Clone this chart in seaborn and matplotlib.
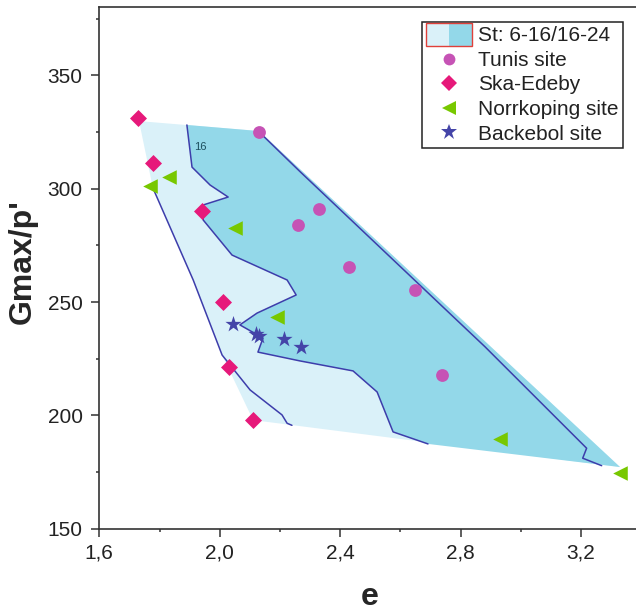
import matplotlib
matplotlib.use("Agg")
import matplotlib.pyplot as plt
import matplotlib.patches as mpatches
from matplotlib.lines import Line2D
from matplotlib.legend_handler import HandlerBase
from matplotlib.ticker import MultipleLocator, FuncFormatter
import seaborn as sns

# ---------------- data ----------------
tunis_e = [2.13, 2.26, 2.33, 2.43, 2.65, 2.74]
tunis_g = [325, 284, 291, 265.5, 255.5, 218]

ska_e = [1.73, 1.78, 1.94, 2.01, 2.03, 2.11]
ska_g = [331, 311.5, 290, 250, 221.5, 198]

norr_e = [1.77, 1.83, 2.05, 2.19, 2.93, 3.33]
norr_g = [301, 305, 282.5, 243.5, 189.5, 174.5]

back_e = [2.045, 2.12, 2.13, 2.215, 2.27]
back_g = [240.5, 236, 235, 233.5, 230]

# outer zone St 6-16 (light)
zone_light_e = [1.732, 2.131, 3.33, 2.111, 2.008, 1.912, 1.778]
zone_light_g = [329.8, 325.4, 177.2, 197.9, 226.6, 259.7, 300.3]

# contour 16 (boundary of the 16-24 zone)
c16_e = [1.891, 1.908, 1.968, 2.028, 1.945, 1.945, 2.041, 2.224, 2.254,
         2.124, 2.067, 2.144, 2.127, 2.267, 2.443, 2.523, 2.576, 2.692]
c16_g = [328.1, 309.5, 301.6, 296.3, 292.8, 286.2, 270.7, 259.7, 253.1,
         245.1, 239.9, 234.1, 227.9, 224.0, 219.6, 210.3, 192.7, 187.4]

# dark zone closing corners (right tip, top right)
dark_close_e = [3.33, 2.131]
dark_close_g = [177.2, 325.4]

# right contour line
c24_e = [2.131, 2.267, 2.787, 2.881, 3.219, 3.206, 3.269]
c24_g = [325.0, 307.5, 242.1, 230.3, 185.5, 181.1, 177.8]

# left contour line
c6_e = [1.778, 1.912, 2.008, 2.101, 2.207, 2.224, 2.240]
c6_g = [300.3, 259.7, 226.6, 211.2, 200.2, 196.5, 195.6]

legend_labels = ["St: 6-16/16-24", "Tunis site", "Ska-Edeby",
                 "Norrkoping site", "Backebol site"]

# ---------------- style ----------------
LIGHT = "#daf1f9"
DARK = "#93d8e9"
LINE = "#3d3dab"
C_TUN = "#c653b5"
C_SKA = "#e6197a"
C_NOR = "#78c800"
C_BAK = "#4444a8"

sns.set_style("ticks")
plt.rcParams["font.family"] = ["Liberation Sans", "DejaVu Sans"]

W, H = 636, 611
fig = plt.figure(figsize=(W / 100, H / 100), dpi=100)
ax = fig.add_axes([99.3 / W, 1 - 528.7 / H, 540 / W, (528.7 - 7.3) / H])

# zones
ax.fill(zone_light_e, zone_light_g, color=LIGHT, lw=0, zorder=1)
ax.fill(c16_e + dark_close_e, c16_g + dark_close_g, color=DARK, lw=0, zorder=2)

# contour lines
for xs, ys in [(c16_e, c16_g), (c24_e, c24_g), (c6_e, c6_g)]:
    sns.lineplot(x=xs, y=ys, sort=False, estimator=None, color=LINE,
                 lw=1.1, ax=ax, zorder=3)
ax.text(1.9146, 318.4, "16", fontsize=8, color="#1d4f5e", ha="left",
        va="center", zorder=4)

# points
sns.scatterplot(x=tunis_e, y=tunis_g, marker="o", s=85, color=C_TUN,
                linewidth=0, ax=ax, zorder=5)
sns.scatterplot(x=ska_e, y=ska_g, marker="D", s=75, color=C_SKA,
                linewidth=0, ax=ax, zorder=5)
sns.scatterplot(x=norr_e, y=norr_g, marker="<", s=110, color=C_NOR,
                linewidth=0, ax=ax, zorder=5)
sns.scatterplot(x=back_e, y=back_g, marker="*", s=150, color=C_BAK,
                linewidth=0, ax=ax, zorder=5)

# axes
ax.set_xlim(1.6, 1.6 + 540 / 301)
ax.set_ylim(150, 150 + 521.4 / 2.267)
ax.xaxis.set_major_locator(MultipleLocator(0.4))
ax.xaxis.set_minor_locator(MultipleLocator(0.2))
ax.yaxis.set_major_locator(MultipleLocator(50))
ax.yaxis.set_minor_locator(MultipleLocator(25))
ax.xaxis.set_major_formatter(FuncFormatter(lambda v, p: f"{v:.1f}".replace(".", ",")))
ax.tick_params(which="major", direction="out", length=6, width=1.1,
               labelsize=15, colors="#333333", labelcolor="#222222")
ax.tick_params(axis="y", which="major", pad=6)
ax.tick_params(axis="x", which="major", pad=5)
ax.tick_params(which="minor", direction="out", length=2.5, width=1.1,
               colors="#333333")
for side in ["left", "bottom", "top", "right"]:
    ax.spines[side].set_color("#333333")
    ax.spines[side].set_linewidth(1.2)

ax.set_xlabel("e", fontsize=23, fontweight="bold", va="baseline")
ax.set_ylabel("Gmax/p'", fontsize=23, fontweight="bold")
ax.xaxis.set_label_coords(0.5, -(605 - 528.7) / 521.4)
ax.yaxis.set_label_coords(-(99.3 - 38) / 540, (528.7 - 262) / 521.4)


# legend
class TwoToneHandler(HandlerBase):
    def create_artists(self, legend, orig_handle, xdescent, ydescent,
                       width, height, fontsize, trans):
        h = 16.5
        x0 = -xdescent
        y0 = -ydescent + height / 2 - h / 2 - 0.5
        left = mpatches.Rectangle((x0, y0), width / 2, h, facecolor=LIGHT,
                                  edgecolor="none", transform=trans)
        right = mpatches.Rectangle((x0 + width / 2, y0), width / 2, h,
                                   facecolor=DARK, edgecolor="none",
                                   transform=trans)
        border = mpatches.Rectangle((x0, y0), width, h, facecolor="none",
                                    edgecolor="#e0403a", lw=1.0,
                                    transform=trans)
        return [left, right, border]


zone_handle = mpatches.Rectangle((0, 0), 1, 1)
handles = [
    zone_handle,
    Line2D([], [], ls="none", marker="o", ms=8.5, color=C_TUN, mew=0),
    Line2D([], [], ls="none", marker="D", ms=8, color=C_SKA, mew=0),
    Line2D([], [], ls="none", marker="<", ms=10, color=C_NOR, mew=0),
    Line2D([], [], ls="none", marker="*", ms=12, color=C_BAK, mew=0),
]
leg = ax.legend(handles, legend_labels, loc="upper right",
                bbox_to_anchor=(523.7 / 540, 1 - 14.7 / 521.4),
                fontsize=15, frameon=True, fancybox=False, framealpha=1,
                edgecolor="#222222", handlelength=2.2, handletextpad=0.3,
                labelspacing=0.27, borderpad=0.2, borderaxespad=0,
                handler_map={mpatches.Rectangle: TwoToneHandler()})
leg.get_frame().set_linewidth(1.1)
for t in leg.get_texts():
    t.set_color("#222222")

fig.savefig("out.png", dpi=100)
